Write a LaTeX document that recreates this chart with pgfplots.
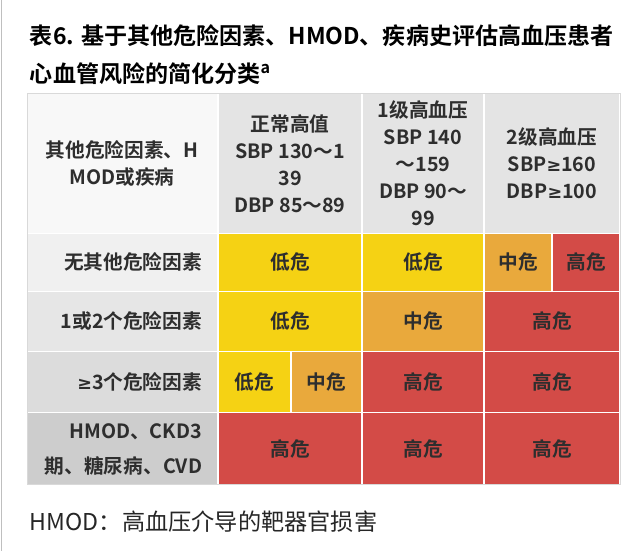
\documentclass[border=0pt]{standalone}
\usepackage{fontspec}
\setmainfont{Noto Sans CJK SC}[BoldFont={Noto Sans CJK SC Bold}]
\newfontfamily\symfont{DejaVu Sans}
\newcommand{\GE}{{\symfont\fontsize{12.5}{12}\selectfont ≥}}
\usepackage{pgfplots}
\pgfplotsset{compat=1.18}

\definecolor{lowc}{HTML}{F5D214}
\definecolor{midc}{HTML}{E9A93C}
\definecolor{highc}{HTML}{D34B47}
\definecolor{hdr}{HTML}{E4E4E4}
\definecolor{hdr0}{HTML}{F8F8F8}
\definecolor{lab1}{HTML}{F0F0F0}
\definecolor{lab2}{HTML}{E6E6E6}
\definecolor{lab3}{HTML}{DCDCDC}
\definecolor{lab4}{HTML}{CDCDCD}
\definecolor{txt}{HTML}{2E2E2E}

% one table cell, pixel coordinates (x1,y1) top-left, (x2,y2) bottom-right
\newcommand{\cell}[5]{%
  \addplot[fill=#5, draw=white, line width=1pt]
    coordinates {(#1,#2) (#3,#2) (#3,#4) (#1,#4) (#1,#2)};
}

\begin{document}
\begin{tikzpicture}
\begin{axis}[
  width=16cm, height=13.775cm, scale only axis,
  xmin=0, xmax=640, ymin=0, ymax=551, y dir=reverse,
  axis line style={draw=none}, ticks=none,
  clip=false,
]
  \addplot[draw=none] coordinates {(0,0) (640,551)};
  \addplot[draw=gray!50, line width=0.6pt] coordinates {(1.5,0) (1.5,551)};

  % header row
  \cell{27}{93}{218}{233}{hdr0}
  \cell{218}{93}{362}{233}{hdr}
  \cell{362}{93}{484}{233}{hdr}
  \cell{484}{93}{620}{233}{hdr}
  % row labels
  \cell{27}{233}{218}{291}{lab1}
  \cell{27}{291}{218}{351}{lab2}
  \cell{27}{351}{218}{412}{lab3}
  \cell{27}{412}{218}{484}{lab4}
  % row 1
  \cell{218}{233}{362}{291}{lowc}
  \cell{362}{233}{484}{291}{lowc}
  \cell{484}{233}{552}{291}{midc}
  \cell{552}{233}{620}{291}{highc}
  % row 2
  \cell{218}{291}{362}{351}{lowc}
  \cell{362}{291}{484}{351}{midc}
  \cell{484}{291}{620}{351}{highc}
  % row 3
  \cell{218}{351}{291}{412}{lowc}
  \cell{291}{351}{362}{412}{midc}
  \cell{362}{351}{484}{412}{highc}
  \cell{484}{351}{620}{412}{highc}
  % row 4
  \cell{218}{412}{362}{484}{highc}
  \cell{362}{412}{484}{484}{highc}
  \cell{484}{412}{620}{484}{highc}
  % outer frame
  \addplot[draw=gray!30, line width=0.5pt]
    coordinates {(27,93) (620,93) (620,484) (27,484) (27,93)};

  % title
  \node[anchor=west, font=\fontsize{16.4}{20}\selectfont\bfseries, text=black]
    at (axis cs:25,35) {表6. 基于其他危险因素、HMOD、疾病史评估高血压患者};
  \node[anchor=west, font=\fontsize{16.4}{20}\selectfont\bfseries, text=black]
    at (axis cs:25,73) {心血管风险的简化分类\textsuperscript{a}};

  % header text
  \begin{scope}[every node/.style={align=center, text=txt,
      font=\fontsize{14}{19.2}\selectfont\bfseries}]
    \node at (axis cs:122,163) {其他危险因素、H\\MOD或疾病};
    \node at (axis cs:290,163) {正常高值\\SBP 130～1\\39\\DBP 85～89};
    \node at (axis cs:423,163) {1级高血压\\SBP 140\\～159\\DBP 90～\\99};
    \node at (axis cs:552,163) {2级高血压\\SBP\GE 160\\DBP\GE 100};
  \end{scope}

  % row labels
  \begin{scope}[every node/.style={anchor=east, align=right, text=txt,
      font=\fontsize{14}{25}\selectfont\bfseries}]
    \node at (axis cs:207,262) {无其他危险因素};
    \node at (axis cs:207,321) {1或2个危险因素};
    \node at (axis cs:207,382) {\GE 3个危险因素};
    \node at (axis cs:207,449) {HMOD、CKD3\\期、糖尿病、CVD};
  \end{scope}

  % cell text
  \begin{scope}[every node/.style={text=txt,
      font=\fontsize{14}{18}\selectfont\bfseries}]
    \node at (axis cs:290,262) {低危};
    \node at (axis cs:423,262) {低危};
    \node at (axis cs:518,262) {中危};
    \node at (axis cs:586,262) {高危};
    \node at (axis cs:290,321) {低危};
    \node at (axis cs:423,321) {中危};
    \node at (axis cs:552,321) {高危};
    \node at (axis cs:254,382) {低危};
    \node at (axis cs:326,382) {中危};
    \node at (axis cs:423,382) {高危};
    \node at (axis cs:552,382) {高危};
    \node at (axis cs:290,449) {高危};
    \node at (axis cs:423,449) {高危};
    \node at (axis cs:552,449) {高危};
  \end{scope}

  % footnote
  \node[anchor=west, font=\fontsize{16.5}{20}\selectfont, text=black!85]
    at (axis cs:25,521) {HMOD：高血压介导的靶器官损害};
\end{axis}
\end{tikzpicture}
\end{document}
